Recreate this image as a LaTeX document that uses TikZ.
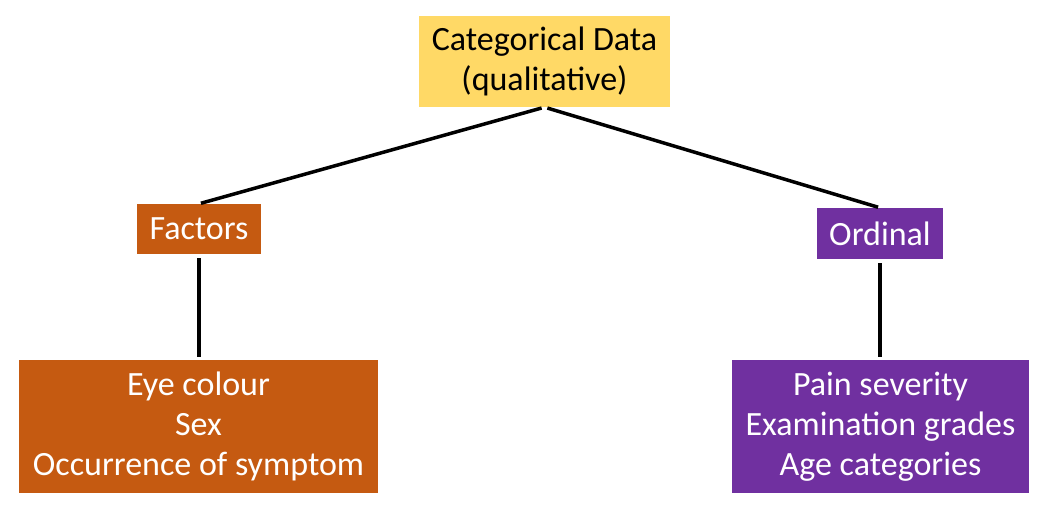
\documentclass[tikz,border=0pt]{standalone}
\usepackage{fontspec}
\setmainfont{Carlito}
\definecolor{cyellow}{HTML}{FFD966}
\definecolor{corange}{HTML}{C55A11}
\definecolor{cpurple}{HTML}{7030A0}
\begin{document}
\begin{tikzpicture}[x=1pt,y=-1pt,
  box/.style={rectangle, inner sep=0pt, align=center, font=\fontsize{34}{40}\selectfont},
  conn/.style={line width=3.5pt, black}]
\useasboundingbox (0,0) rectangle (1042,511);
\node[box, fill=cyellow, text=black, minimum width=251pt, minimum height=91pt] (top) at (544.5,61.5) {Categorical Data\\(qualitative)};
\node[box, fill=corange, text=white, minimum width=124pt, minimum height=50pt] (fac) at (199,229) {Factors};
\node[box, fill=cpurple, text=white, minimum width=126pt, minimum height=51pt] (ord) at (880,233.5) {Ordinal};
\node[box, fill=corange, text=white, minimum width=359pt, minimum height=133pt] (lb) at (198.5,426.5) {Eye colour\\Sex\\Occurrence of symptom};
\node[box, fill=cpurple, text=white, minimum width=297pt, minimum height=133pt] (rb) at (880.5,426.5) {Pain severity\\Examination grades\\Age categories};
\draw[conn, shorten <=3pt, shorten >=2pt] (top.south) -- (fac.north);
\draw[conn, shorten <=3pt, shorten >=2pt] (top.south) -- (ord.north);
\draw[conn, shorten <=4pt, shorten >=3pt] (fac.south) -- (lb.north -| fac.south);
\draw[conn, shorten <=4pt, shorten >=3pt] (ord.south) -- (rb.north -| ord.south);
\end{tikzpicture}
\end{document}
